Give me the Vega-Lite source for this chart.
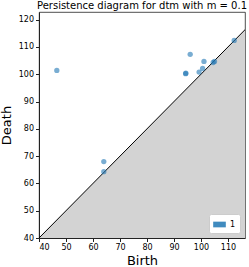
{
  "$schema": "https://vega.github.io/schema/vega-lite/v6.json",
  "width": 206,
  "height": 226,
  "autosize": {"type": "none"},
  "padding": {"left": 39, "top": 12, "right": 4, "bottom": 29},
  "background": "white",
  "title": {"text": "Persistence diagram for dtm with m = 0.1", "fontSize": 10, "font": "DejaVu Sans", "fontWeight": "normal", "color": "black", "offset": 1, "anchor": "middle", "frame": "group"},
  "config": {
    "view": {"stroke": "#222", "strokeWidth": 0.8},
    "axis": {"grid": false, "domainColor": "#222", "tickColor": "#222", "tickSize": 3.5, "labelFontSize": 8, "labelFont": "DejaVu Sans", "labelColor": "black", "titleFont": "DejaVu Sans", "titleFontSize": 13, "titleFontWeight": "normal", "titleColor": "black", "labelPadding": 2, "labelOverlap": false}
  },
  "encoding": {
    "x": {"field": "birth", "type": "quantitative", "scale": {"domain": [40, 116.3], "nice": false, "zero": false}, "axis": {"values": [40, 50, 60, 70, 80, 90, 100, 110], "tickCount": 8, "title": "Birth", "titlePadding": 3, "labelOverlap": false}},
    "y": {"field": "death", "type": "quantitative", "scale": {"domain": [40, 122.8], "nice": false, "zero": false}, "axis": {"values": [40, 50, 60, 70, 80, 90, 100, 110, 120], "tickCount": 9, "title": "Death", "titlePadding": 5, "labelOverlap": false}}
  },
  "layer": [
    {
      "data": {"values": [{"birth": 40, "death": 40, "base": 40}, {"birth": 130, "death": 130, "base": 40}]},
      "mark": {"type": "area", "color": "#d3d3d3", "clip": true},
      "encoding": {
        "y2": {"field": "base"}
      }
    },
    {
      "data": {"values": [{"birth": 40, "death": 40}, {"birth": 130, "death": 130}]},
      "mark": {"type": "line", "color": "black", "strokeWidth": 1, "clip": true},
      "encoding": {}
    },
    {
      "data": {"values": [
        {"birth": 46.6, "death": 101.4, "dim": "1"},
        {"birth": 64.0, "death": 68.0, "dim": "1"},
        {"birth": 64.0, "death": 64.3, "dim": "1"},
        {"birth": 94.3, "death": 100.2, "dim": "1"},
        {"birth": 94.4, "death": 100.4, "dim": "1"},
        {"birth": 99.3, "death": 100.8, "dim": "1"},
        {"birth": 100.6, "death": 102.1, "dim": "1"},
        {"birth": 101.1, "death": 104.7, "dim": "1"},
        {"birth": 96.0, "death": 107.3, "dim": "1"},
        {"birth": 104.5, "death": 104.3, "dim": "1"},
        {"birth": 105.0, "death": 104.7, "dim": "1"},
        {"birth": 112.3, "death": 112.4, "dim": "1"}
      ]},
      "mark": {"type": "circle", "size": 28, "opacity": 0.6},
      "encoding": {
        "color": {"field": "dim", "type": "nominal", "scale": {"domain": ["1"], "range": ["#1f77b4"]},
          "legend": {"title": null, "orient": "bottom-right", "offset": 5, "fillColor": "white", "strokeColor": "#ccc", "padding": 4, "cornerRadius": 2, "symbolType": "M-1,-0.45H1V0.45H-1Z", "symbolSize": 160, "symbolOpacity": 0.85, "labelFontSize": 8, "labelFont": "DejaVu Sans", "labelColor": "black", "symbolStrokeWidth": 0}}
      }
    }
  ]
}
